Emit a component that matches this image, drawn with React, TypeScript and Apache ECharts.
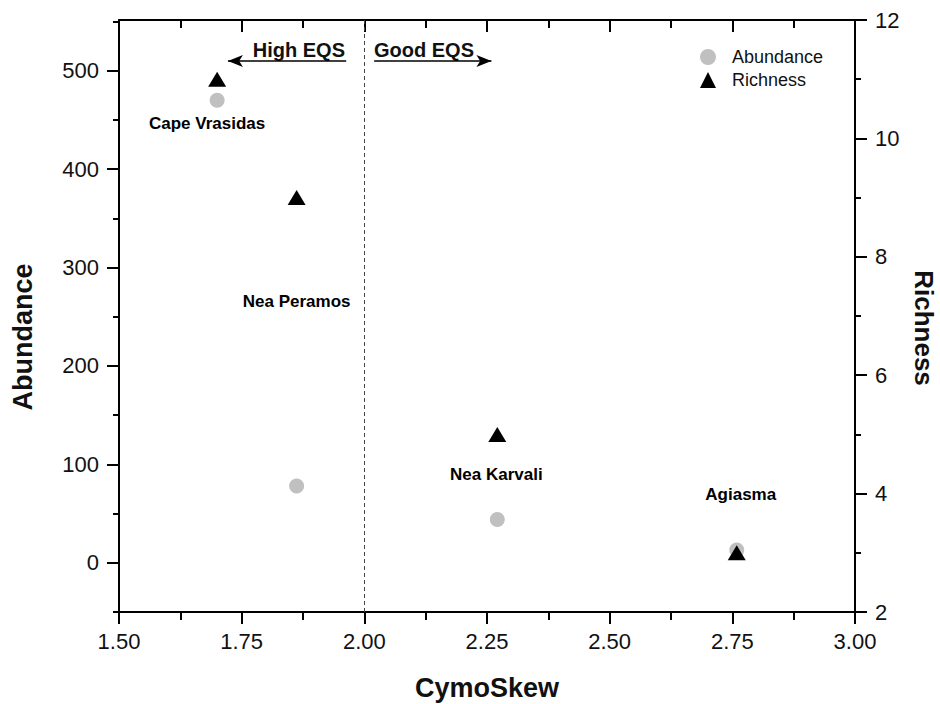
import React, { useEffect, useRef } from "react";
import * as echarts from "echarts";

const sites = ["Cape Vrasidas", "Nea Peramos", "Nea Karvali", "Agiasma"];
const cymoSkew = [1.7, 1.862, 2.271, 2.759];
const abundance = [470, 78, 44, 13];
const richness = [11, 9, 5, 3];
const abundanceLabels = [0, 100, 200, 300, 400, 500];
const abundanceMinor = [-50, 50, 150, 250, 350, 450, 550];
const eqsBoundary = 2.0;

const FONT = "'Liberation Sans', Arial, Helvetica, sans-serif";
const labelOffsets: number[][] = [
  [-10, 44],
  [0, 104],
  [-1, 40],
  [4, -58],
];

export default function App() {
  const ref = useRef<HTMLDivElement>(null);
  useEffect(() => {
    document.body.style.margin = "0";
    const chart = echarts.init(ref.current!, null, { renderer: "svg" });
    const axisLine = { show: true, onZero: false, lineStyle: { color: "#000", width: 2 } };
    const option: any = {
      animation: false,
      backgroundColor: "#fff",
      textStyle: { fontFamily: FONT },
      grid: { left: 119, right: 85, top: 20, bottom: 92 },
      legend: {
        orient: "vertical",
        left: 695,
        top: 43,
        itemWidth: 16,
        itemHeight: 16,
        itemGap: 5,
        textStyle: { fontSize: 18, color: "#111", fontFamily: FONT, lineHeight: 16, padding: [0, 0, 0, 11] },
        data: [
          { name: "Abundance", icon: "circle" },
          { name: "Richness", icon: "triangle" },
        ],
      },
      xAxis: [
        {
          type: "value",
          position: "bottom",
          min: 1.5,
          max: 3,
          interval: 0.25,
          axisLine,
          axisTick: { show: true, inside: false, length: 12, lineStyle: { color: "#000", width: 2 } },
          minorTick: { show: true, splitNumber: 2, length: 8, lineStyle: { color: "#000", width: 2 } },
          splitLine: { show: false },
          minorSplitLine: { show: false },
          axisLabel: {
            fontSize: 22,
            color: "#111",
            margin: 18,
            fontFamily: FONT,
            formatter: (v: number) => v.toFixed(2),
          },
        },
        {
          type: "value",
          position: "top",
          min: 1.5,
          max: 3,
          interval: 0.25,
          axisLine,
          axisTick: { show: true, inside: true, length: 12, lineStyle: { color: "#000", width: 2 } },
          minorTick: { show: true, splitNumber: 2, length: 8, lineStyle: { color: "#000", width: 2 } },
          splitLine: { show: false },
          axisLabel: { show: false },
        },
      ],
      yAxis: [
        {
          type: "value",
          position: "left",
          min: -50,
          max: 551.6,
          axisLine,
          axisTick: { show: true, length: 12, customValues: abundanceLabels, lineStyle: { color: "#000", width: 2 } },
          splitLine: { show: false },
          axisLabel: {
            fontSize: 22,
            color: "#111",
            margin: 20,
            fontFamily: FONT,
            customValues: abundanceLabels,
          },
        },
        {
          type: "value",
          position: "right",
          min: 2,
          max: 12,
          interval: 2,
          axisLine,
          axisTick: { show: true, length: 12, lineStyle: { color: "#000", width: 2 } },
          minorTick: { show: true, splitNumber: 2, length: 6, lineStyle: { color: "#000", width: 2 } },
          splitLine: { show: false },
          minorSplitLine: { show: false },
          axisLabel: { fontSize: 22, color: "#111", margin: 20, fontFamily: FONT },
        },
        {
          type: "value",
          position: "left",
          min: -50,
          max: 551.6,
          axisLine: { show: false },
          axisTick: { show: true, length: 6, customValues: abundanceMinor, lineStyle: { color: "#000", width: 2 } },
          splitLine: { show: false },
          axisLabel: { show: false },
        },
      ],
      series: [
        {
          name: "Abundance",
          type: "scatter",
          xAxisIndex: 0,
          yAxisIndex: 0,
          symbol: "circle",
          symbolSize: 15,
          itemStyle: { color: "#c0c0c0", opacity: 1 },
          data: cymoSkew.map((x, i) => [x, abundance[i]]),
          markLine: {
            silent: true,
            symbol: ["none", "arrow"],
            symbolSize: [9, 15],
            label: { show: false },
            lineStyle: { color: "#000", width: 1.5, type: "solid", opacity: 1 },
            data: [
              [{ coord: [1.963, 510] }, { coord: [1.722, 510] }],
              [{ coord: [2.02, 510] }, { coord: [2.259, 510] }],
            ],
          },
        },
        {
          name: "Richness",
          type: "scatter",
          xAxisIndex: 0,
          yAxisIndex: 1,
          symbol: "triangle",
          symbolSize: [18, 15],
          itemStyle: { color: "#000", opacity: 1 },
          data: cymoSkew.map((x, i) => ({
            value: [x, richness[i]],
            name: sites[i],
            label: { offset: labelOffsets[i] },
          })),
          label: {
            show: true,
            position: "inside",
            formatter: (p: any) => p.name,
            fontSize: 17,
            fontWeight: "bold",
            color: "#000",
            opacity: 1,
            fontFamily: FONT,
          },
          markLine: {
            silent: true,
            symbol: ["none", "none"],
            label: { show: false },
            lineStyle: { color: "#444", width: 1, type: [4, 3], opacity: 1 },
            data: [{ xAxis: eqsBoundary }],
          },
        },
      ],
      graphic: [
        {
          type: "text",
          x: 345,
          y: 50,
          style: { text: "High EQS", font: `bold 20px ${FONT}`, fill: "#111", textAlign: "right", textVerticalAlign: "middle" },
        },
        {
          type: "text",
          x: 374,
          y: 50,
          style: { text: "Good EQS", font: `bold 20px ${FONT}`, fill: "#111", textAlign: "left", textVerticalAlign: "middle" },
        },
        {
          type: "text",
          x: 23,
          y: 337,
          rotation: Math.PI / 2,
          style: { text: "Abundance", font: `bold 27px ${FONT}`, fill: "#111", textAlign: "center", textVerticalAlign: "middle" },
        },
        {
          type: "text",
          x: 924,
          y: 328,
          rotation: -Math.PI / 2,
          style: { text: "Richness", font: `bold 26px ${FONT}`, fill: "#111", textAlign: "center", textVerticalAlign: "middle" },
        },
        {
          type: "text",
          x: 487,
          y: 688,
          style: { text: "CymoSkew", font: `bold 27px ${FONT}`, fill: "#111", textAlign: "center", textVerticalAlign: "middle" },
        },
      ],
    };
    chart.setOption(option);
    return () => chart.dispose();
  }, []);
  return <div ref={ref} style={{ width: 940, height: 704, position: "fixed", left: 0, top: 0 }} />;
}
